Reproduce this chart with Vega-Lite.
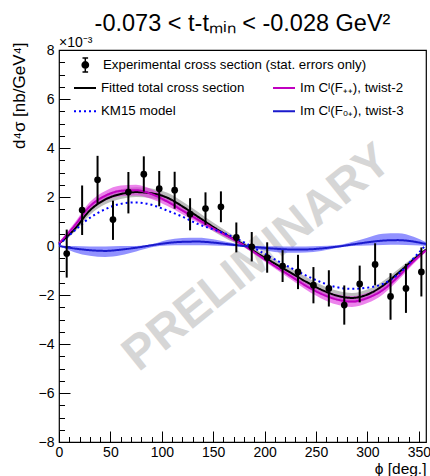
{
  "$schema": "https://vega.github.io/schema/vega-lite/v6.json",
  "autosize": {"type": "none"},
  "padding": {"left": 59, "top": 50, "right": 4, "bottom": 34},
  "width": 367,
  "height": 392,
  "title": {"text": "-0.073 < t-tₘᵢₙ < -0.028 GeV²", "font": "Liberation Sans", "fontSize": 23.5, "fontWeight": "normal", "color": "black", "anchor": "middle", "frame": "group", "offset": 1},
  "config": {
    "view": {"stroke": "black", "strokeWidth": 1.2},
    "axis": {"grid": false, "domainColor": "black", "tickColor": "black", "labelColor": "black", "titleColor": "black", "labelFont": "Liberation Sans", "titleFont": "Liberation Sans", "labelFontSize": 14, "titleFontSize": 16, "titleFontWeight": "normal", "domainWidth": 1, "tickWidth": 1, "labelOverlap": false, "labelFlush": false}
  },
  "resolve": {"axis": {"x": "independent", "y": "independent"}},
  "datasets": {
    "points": [
      {"phi": 7.5, "v": -0.31, "lo": -1.29, "hi": 0.67},
      {"phi": 22.5, "v": 1.47, "lo": 0.45, "hi": 2.47},
      {"phi": 37.5, "v": 2.70, "lo": 1.72, "hi": 3.68},
      {"phi": 52.5, "v": 1.08, "lo": 0.25, "hi": 1.85},
      {"phi": 67.5, "v": 2.20, "lo": 1.33, "hi": 3.02},
      {"phi": 82.5, "v": 2.93, "lo": 2.22, "hi": 3.66},
      {"phi": 97.5, "v": 2.34, "lo": 1.62, "hi": 3.06},
      {"phi": 112.5, "v": 2.28, "lo": 1.52, "hi": 3.03},
      {"phi": 127.5, "v": 1.30, "lo": 0.64, "hi": 1.95},
      {"phi": 142.5, "v": 1.53, "lo": 0.86, "hi": 2.19},
      {"phi": 157.5, "v": 1.60, "lo": 0.97, "hi": 2.23},
      {"phi": 172.5, "v": 0.35, "lo": -0.26, "hi": 0.96},
      {"phi": 187.5, "v": -0.03, "lo": -0.63, "hi": 0.57},
      {"phi": 202.5, "v": -0.47, "lo": -1.09, "hi": 0.15},
      {"phi": 217.5, "v": -0.82, "lo": -1.47, "hi": -0.17},
      {"phi": 232.5, "v": -1.06, "lo": -1.76, "hi": -0.36},
      {"phi": 247.5, "v": -1.60, "lo": -2.34, "hi": -0.86},
      {"phi": 262.5, "v": -1.73, "lo": -2.47, "hi": -0.99},
      {"phi": 277.5, "v": -2.41, "lo": -3.21, "hi": -1.61},
      {"phi": 292.5, "v": -1.55, "lo": -2.30, "hi": -0.80},
      {"phi": 307.5, "v": -0.75, "lo": -1.61, "hi": 0.11},
      {"phi": 322.5, "v": -2.06, "lo": -3.01, "hi": -1.11},
      {"phi": 337.5, "v": -1.73, "lo": -2.73, "hi": -0.73},
      {"phi": 352.5, "v": -1.06, "lo": -2.06, "hi": -0.06}
    ],
    "curves": [
      {"series": "Fitted total cross section", "phi": 0, "v": 0.1, "lo": 0.05, "hi": 0.15},
      {"series": "Fitted total cross section", "phi": 15, "v": 0.68, "lo": 0.56, "hi": 0.8},
      {"series": "Fitted total cross section", "phi": 30, "v": 1.45, "lo": 1.27, "hi": 1.63},
      {"series": "Fitted total cross section", "phi": 45, "v": 1.9, "lo": 1.7, "hi": 2.1},
      {"series": "Fitted total cross section", "phi": 60, "v": 2.12, "lo": 1.92, "hi": 2.32},
      {"series": "Fitted total cross section", "phi": 75, "v": 2.2, "lo": 2.0, "hi": 2.4},
      {"series": "Fitted total cross section", "phi": 90, "v": 2.15, "lo": 1.95, "hi": 2.35},
      {"series": "Fitted total cross section", "phi": 105, "v": 1.98, "lo": 1.78, "hi": 2.18},
      {"series": "Fitted total cross section", "phi": 120, "v": 1.62, "lo": 1.42, "hi": 1.82},
      {"series": "Fitted total cross section", "phi": 135, "v": 1.2, "lo": 1.0, "hi": 1.4},
      {"series": "Fitted total cross section", "phi": 150, "v": 0.78, "lo": 0.6, "hi": 0.96},
      {"series": "Fitted total cross section", "phi": 165, "v": 0.4, "lo": 0.25, "hi": 0.55},
      {"series": "Fitted total cross section", "phi": 180, "v": 0.05, "lo": -0.05, "hi": 0.15},
      {"series": "Fitted total cross section", "phi": 195, "v": -0.35, "lo": -0.47, "hi": -0.23},
      {"series": "Fitted total cross section", "phi": 210, "v": -0.72, "lo": -0.87, "hi": -0.57},
      {"series": "Fitted total cross section", "phi": 225, "v": -1.08, "lo": -1.26, "hi": -0.9},
      {"series": "Fitted total cross section", "phi": 240, "v": -1.45, "lo": -1.65, "hi": -1.25},
      {"series": "Fitted total cross section", "phi": 255, "v": -1.78, "lo": -1.98, "hi": -1.58},
      {"series": "Fitted total cross section", "phi": 270, "v": -2.02, "lo": -2.22, "hi": -1.82},
      {"series": "Fitted total cross section", "phi": 285, "v": -2.12, "lo": -2.32, "hi": -1.92},
      {"series": "Fitted total cross section", "phi": 300, "v": -1.98, "lo": -2.18, "hi": -1.78},
      {"series": "Fitted total cross section", "phi": 315, "v": -1.62, "lo": -1.8, "hi": -1.44},
      {"series": "Fitted total cross section", "phi": 330, "v": -1.1, "lo": -1.25, "hi": -0.95},
      {"series": "Fitted total cross section", "phi": 345, "v": -0.55, "lo": -0.65, "hi": -0.45},
      {"series": "Fitted total cross section", "phi": 357, "v": -0.15, "lo": -0.2, "hi": -0.1},
      {"series": "Im Cᴵ(F₊₊), twist-2", "phi": 0, "v": 0.1, "lo": 0.05, "hi": 0.15},
      {"series": "Im Cᴵ(F₊₊), twist-2", "phi": 15, "v": 0.82, "lo": 0.7, "hi": 0.94},
      {"series": "Im Cᴵ(F₊₊), twist-2", "phi": 30, "v": 1.62, "lo": 1.44, "hi": 1.8},
      {"series": "Im Cᴵ(F₊₊), twist-2", "phi": 45, "v": 2.05, "lo": 1.85, "hi": 2.25},
      {"series": "Im Cᴵ(F₊₊), twist-2", "phi": 60, "v": 2.25, "lo": 2.03, "hi": 2.47},
      {"series": "Im Cᴵ(F₊₊), twist-2", "phi": 75, "v": 2.28, "lo": 2.06, "hi": 2.5},
      {"series": "Im Cᴵ(F₊₊), twist-2", "phi": 90, "v": 2.12, "lo": 1.92, "hi": 2.32},
      {"series": "Im Cᴵ(F₊₊), twist-2", "phi": 105, "v": 1.82, "lo": 1.64, "hi": 2.0},
      {"series": "Im Cᴵ(F₊₊), twist-2", "phi": 120, "v": 1.45, "lo": 1.3, "hi": 1.6},
      {"series": "Im Cᴵ(F₊₊), twist-2", "phi": 135, "v": 1.08, "lo": 0.96, "hi": 1.2},
      {"series": "Im Cᴵ(F₊₊), twist-2", "phi": 150, "v": 0.72, "lo": 0.62, "hi": 0.82},
      {"series": "Im Cᴵ(F₊₊), twist-2", "phi": 165, "v": 0.38, "lo": 0.3, "hi": 0.46},
      {"series": "Im Cᴵ(F₊₊), twist-2", "phi": 180, "v": 0.02, "lo": -0.04, "hi": 0.08},
      {"series": "Im Cᴵ(F₊₊), twist-2", "phi": 195, "v": -0.4, "lo": -0.48, "hi": -0.32},
      {"series": "Im Cᴵ(F₊₊), twist-2", "phi": 210, "v": -0.82, "lo": -0.92, "hi": -0.72},
      {"series": "Im Cᴵ(F₊₊), twist-2", "phi": 225, "v": -1.22, "lo": -1.35, "hi": -1.09},
      {"series": "Im Cᴵ(F₊₊), twist-2", "phi": 240, "v": -1.62, "lo": -1.78, "hi": -1.46},
      {"series": "Im Cᴵ(F₊₊), twist-2", "phi": 255, "v": -1.95, "lo": -2.14, "hi": -1.76},
      {"series": "Im Cᴵ(F₊₊), twist-2", "phi": 270, "v": -2.18, "lo": -2.39, "hi": -1.97},
      {"series": "Im Cᴵ(F₊₊), twist-2", "phi": 285, "v": -2.27, "lo": -2.49, "hi": -2.05},
      {"series": "Im Cᴵ(F₊₊), twist-2", "phi": 300, "v": -2.12, "lo": -2.33, "hi": -1.91},
      {"series": "Im Cᴵ(F₊₊), twist-2", "phi": 315, "v": -1.8, "lo": -1.98, "hi": -1.62},
      {"series": "Im Cᴵ(F₊₊), twist-2", "phi": 330, "v": -1.25, "lo": -1.39, "hi": -1.11},
      {"series": "Im Cᴵ(F₊₊), twist-2", "phi": 345, "v": -0.62, "lo": -0.72, "hi": -0.52},
      {"series": "Im Cᴵ(F₊₊), twist-2", "phi": 357, "v": -0.18, "lo": -0.23, "hi": -0.13},
      {"series": "KM15 model", "phi": 0, "v": 0.05},
      {"series": "KM15 model", "phi": 15, "v": 0.62},
      {"series": "KM15 model", "phi": 30, "v": 1.15},
      {"series": "KM15 model", "phi": 45, "v": 1.5},
      {"series": "KM15 model", "phi": 60, "v": 1.72},
      {"series": "KM15 model", "phi": 75, "v": 1.78},
      {"series": "KM15 model", "phi": 90, "v": 1.68},
      {"series": "KM15 model", "phi": 105, "v": 1.45},
      {"series": "KM15 model", "phi": 120, "v": 1.2},
      {"series": "KM15 model", "phi": 135, "v": 0.9},
      {"series": "KM15 model", "phi": 150, "v": 0.68},
      {"series": "KM15 model", "phi": 165, "v": 0.45},
      {"series": "KM15 model", "phi": 180, "v": 0.15},
      {"series": "KM15 model", "phi": 195, "v": -0.2},
      {"series": "KM15 model", "phi": 210, "v": -0.55},
      {"series": "KM15 model", "phi": 225, "v": -0.88},
      {"series": "KM15 model", "phi": 240, "v": -1.2},
      {"series": "KM15 model", "phi": 255, "v": -1.48},
      {"series": "KM15 model", "phi": 270, "v": -1.68},
      {"series": "KM15 model", "phi": 285, "v": -1.75},
      {"series": "KM15 model", "phi": 300, "v": -1.7},
      {"series": "KM15 model", "phi": 315, "v": -1.55},
      {"series": "KM15 model", "phi": 330, "v": -1.15},
      {"series": "KM15 model", "phi": 345, "v": -0.5},
      {"series": "KM15 model", "phi": 357, "v": 0.05},
      {"series": "Im Cᴵ(F₀₊), twist-3", "phi": 0, "v": 0.0, "lo": 0.0, "hi": 0.0},
      {"series": "Im Cᴵ(F₀₊), twist-3", "phi": 15, "v": -0.1, "lo": -0.25, "hi": 0.0},
      {"series": "Im Cᴵ(F₀₊), twist-3", "phi": 30, "v": -0.17, "lo": -0.4, "hi": -0.02},
      {"series": "Im Cᴵ(F₀₊), twist-3", "phi": 45, "v": -0.2, "lo": -0.45, "hi": -0.02},
      {"series": "Im Cᴵ(F₀₊), twist-3", "phi": 60, "v": -0.15, "lo": -0.38, "hi": 0.0},
      {"series": "Im Cᴵ(F₀₊), twist-3", "phi": 75, "v": -0.07, "lo": -0.22, "hi": 0.0},
      {"series": "Im Cᴵ(F₀₊), twist-3", "phi": 90, "v": 0.03, "lo": -0.05, "hi": 0.07},
      {"series": "Im Cᴵ(F₀₊), twist-3", "phi": 105, "v": 0.12, "lo": 0.02, "hi": 0.25},
      {"series": "Im Cᴵ(F₀₊), twist-3", "phi": 120, "v": 0.17, "lo": 0.03, "hi": 0.33},
      {"series": "Im Cᴵ(F₀₊), twist-3", "phi": 135, "v": 0.18, "lo": 0.03, "hi": 0.34},
      {"series": "Im Cᴵ(F₀₊), twist-3", "phi": 150, "v": 0.14, "lo": 0.02, "hi": 0.28},
      {"series": "Im Cᴵ(F₀₊), twist-3", "phi": 165, "v": 0.07, "lo": 0.0, "hi": 0.15},
      {"series": "Im Cᴵ(F₀₊), twist-3", "phi": 180, "v": 0.0, "lo": -0.04, "hi": 0.04},
      {"series": "Im Cᴵ(F₀₊), twist-3", "phi": 195, "v": -0.06, "lo": -0.14, "hi": 0.0},
      {"series": "Im Cᴵ(F₀₊), twist-3", "phi": 210, "v": -0.11, "lo": -0.24, "hi": -0.01},
      {"series": "Im Cᴵ(F₀₊), twist-3", "phi": 225, "v": -0.14, "lo": -0.28, "hi": -0.02},
      {"series": "Im Cᴵ(F₀₊), twist-3", "phi": 240, "v": -0.14, "lo": -0.27, "hi": -0.02},
      {"series": "Im Cᴵ(F₀₊), twist-3", "phi": 255, "v": -0.1, "lo": -0.2, "hi": 0.0},
      {"series": "Im Cᴵ(F₀₊), twist-3", "phi": 270, "v": -0.03, "lo": -0.08, "hi": 0.03},
      {"series": "Im Cᴵ(F₀₊), twist-3", "phi": 285, "v": 0.06, "lo": 0.0, "hi": 0.16},
      {"series": "Im Cᴵ(F₀₊), twist-3", "phi": 300, "v": 0.15, "lo": 0.02, "hi": 0.34},
      {"series": "Im Cᴵ(F₀₊), twist-3", "phi": 315, "v": 0.22, "lo": 0.04, "hi": 0.5},
      {"series": "Im Cᴵ(F₀₊), twist-3", "phi": 330, "v": 0.24, "lo": 0.05, "hi": 0.52},
      {"series": "Im Cᴵ(F₀₊), twist-3", "phi": 345, "v": 0.18, "lo": 0.03, "hi": 0.38},
      {"series": "Im Cᴵ(F₀₊), twist-3", "phi": 357, "v": 0.08, "lo": 0.0, "hi": 0.15}
    ]
  },
  "layer": [
    {
      "data": {"values": [{}]},
      "mark": {"type": "text", "text": "PRELIMINARY", "font": "Liberation Sans", "fontWeight": "bold", "fontSize": 48, "angle": -39, "color": "#d6d6d6", "align": "center", "baseline": "middle"},
      "encoding": {
        "x": {"datum": 193, "type": "quantitative", "scale": {"domain": [0, 357], "nice": false, "zero": false}, "axis": null},
        "y": {"datum": -0.5, "type": "quantitative", "scale": {"domain": [-8, 8], "nice": false, "zero": false}, "axis": null}
      }
    },
    {
      "data": {"name": "curves"},
      "transform": [{"filter": "datum.series === 'Fitted total cross section'"}],
      "mark": {"type": "area", "color": "#b0b0b0", "opacity": 0.85, "interpolate": "monotone"},
      "encoding": {
        "x": {"field": "phi", "type": "quantitative", "scale": {"domain": [0, 357], "nice": false, "zero": false}, "title": "ϕ [deg.]",
          "axis": {"orient": "bottom", "values": [0, 50, 100, 150, 200, 250, 300, 350], "offset": -11, "tickSize": 11, "domain": false,
            "labelPadding": 3, "titleAnchor": "end", "titleAlign": "right", "titleX": 367, "titleY": 42, "titleBaseline": "alphabetic", "titleFontSize": 15.5}},
        "y": {"field": "lo", "type": "quantitative", "scale": {"domain": [-8, 8], "nice": false, "zero": false}, "title": "d⁴σ [nb/GeV⁴]",
          "axis": {"orient": "left", "values": [-8, -6, -4, -2, 0, 2, 4, 6, 8], "offset": -11, "tickSize": 11, "domain": false,
            "labelPadding": 5, "titleAnchor": "end", "titleAlign": "right", "titleAngle": 270, "titleX": -46, "titleY": -8, "titleBaseline": "alphabetic", "titleFontSize": 17}},
        "y2": {"field": "hi"}
      }
    },
    {
      "data": {"name": "curves"},
      "transform": [{"filter": "datum.series === 'Im Cᴵ(F₊₊), twist-2'"}],
      "mark": {"type": "area", "color": "#e030e0", "opacity": 0.6, "interpolate": "monotone"},
      "encoding": {
        "x": {"field": "phi", "type": "quantitative", "scale": {"domain": [0, 357], "nice": false, "zero": false},
          "axis": {"orient": "bottom", "values": [0,10,20,30,40,60,70,80,90,110,120,130,140,160,170,180,190,210,220,230,240,260,270,280,290,310,320,330,340], "offset": -5.5, "tickSize": 5.5, "labels": false, "domain": false, "title": null}},
        "y": {"field": "lo", "type": "quantitative", "scale": {"domain": [-8, 8], "nice": false, "zero": false},
          "axis": {"orient": "left", "values": [-7.5,-7,-6.5,-5.5,-5,-4.5,-3.5,-3,-2.5,-1.5,-1,-0.5,0.5,1,1.5,2.5,3,3.5,4.5,5,5.5,6.5,7,7.5], "offset": -5.5, "tickSize": 5.5, "labels": false, "domain": false, "title": null}},
        "y2": {"field": "hi"}
      }
    },
    {
      "data": {"name": "curves"},
      "transform": [{"filter": "datum.series === 'Im Cᴵ(F₀₊), twist-3'"}],
      "mark": {"type": "area", "color": "#4a4aff", "opacity": 0.6, "interpolate": "monotone"},
      "encoding": {
        "x": {"field": "phi", "type": "quantitative", "scale": {"domain": [0, 357], "nice": false, "zero": false}, "axis": null},
        "y": {"field": "lo", "type": "quantitative", "scale": {"domain": [-8, 8], "nice": false, "zero": false}, "axis": null},
        "y2": {"field": "hi"}
      }
    },
    {
      "data": {"name": "curves"},
      "mark": {"type": "line", "strokeWidth": 2, "interpolate": "monotone"},
      "encoding": {
        "x": {"field": "phi", "type": "quantitative", "scale": {"domain": [0, 357], "nice": false, "zero": false}, "axis": null},
        "y": {"field": "v", "type": "quantitative", "scale": {"domain": [-8, 8], "nice": false, "zero": false}, "axis": null},
        "stroke": {"field": "series", "type": "nominal",
          "scale": {"domain": ["Fitted total cross section", "KM15 model", "Im Cᴵ(F₊₊), twist-2", "Im Cᴵ(F₀₊), twist-3"], "range": ["#000000", "#0000ff", "#c000c0", "#1a1acc"]},
          "legend": {"orient": "none", "legendX": 14, "legendY": 25.7, "title": null, "columns": 2, "columnPadding": 24, "rowPadding": 4.6, "symbolType": "stroke", "symbolSize": 484, "symbolStrokeWidth": 2, "labelOffset": 4, "labelFont": "Liberation Sans", "labelFontSize": 13.3, "labelColor": "black", "labelLimit": 400, "padding": 0}},
        "strokeDash": {"field": "series", "type": "nominal",
          "scale": {"domain": ["Fitted total cross section", "KM15 model", "Im Cᴵ(F₊₊), twist-2", "Im Cᴵ(F₀₊), twist-3"], "range": [[1, 0], [2, 3], [1, 0], [1, 0]]},
          "legend": {"orient": "none", "legendX": 14, "legendY": 25.7, "title": null, "columns": 2, "columnPadding": 24, "rowPadding": 4.6, "symbolType": "stroke", "symbolSize": 484, "symbolStrokeWidth": 2, "labelOffset": 4, "labelFont": "Liberation Sans", "labelFontSize": 13.3, "labelColor": "black", "labelLimit": 400, "padding": 0}}
      }
    },
    {
      "data": {"name": "points"},
      "mark": {"type": "rule", "color": "black", "strokeWidth": 2},
      "encoding": {
        "x": {"field": "phi", "type": "quantitative", "scale": {"domain": [0, 357], "nice": false, "zero": false}, "axis": null},
        "y": {"field": "lo", "type": "quantitative", "scale": {"domain": [-8, 8], "nice": false, "zero": false}, "axis": null},
        "y2": {"field": "hi"}
      }
    },
    {
      "data": {"name": "points"},
      "mark": {"type": "circle", "size": 45, "opacity": 1},
      "encoding": {
        "x": {"field": "phi", "type": "quantitative", "scale": {"domain": [0, 357], "nice": false, "zero": false}, "axis": null},
        "y": {"field": "v", "type": "quantitative", "scale": {"domain": [-8, 8], "nice": false, "zero": false}, "axis": null},
        "fill": {"datum": "Experimental cross section (stat. errors only)", "type": "nominal", "scale": {"range": ["#000000"]},
          "legend": {"orient": "none", "legendX": 18.3, "legendY": 7, "title": null, "symbolType": "M0,-1L0,1M-0.4,-1L0.4,-1M-0.4,1L0.4,1M-0.45,0A0.45,0.45,0,1,0,0.45,0A0.45,0.45,0,1,0,-0.45,0Z", "symbolSize": 196, "symbolFillColor": "black", "symbolStrokeColor": "black", "symbolStrokeWidth": 1.5, "labelOffset": 9.7, "labelFont": "Liberation Sans", "labelFontSize": 13.3, "labelColor": "black", "labelLimit": 400, "padding": 0}}
      }
    },
    {
      "data": {"values": [{}]},
      "mark": {"type": "text", "text": "×10⁻³", "font": "Liberation Sans", "fontSize": 14, "color": "black", "align": "left", "baseline": "alphabetic", "dy": -3},
      "encoding": {
        "x": {"datum": 0, "type": "quantitative", "scale": {"domain": [0, 357], "nice": false, "zero": false}, "axis": null},
        "y": {"datum": 8, "type": "quantitative", "scale": {"domain": [-8, 8], "nice": false, "zero": false}, "axis": null}
      }
    }
  ]
}
